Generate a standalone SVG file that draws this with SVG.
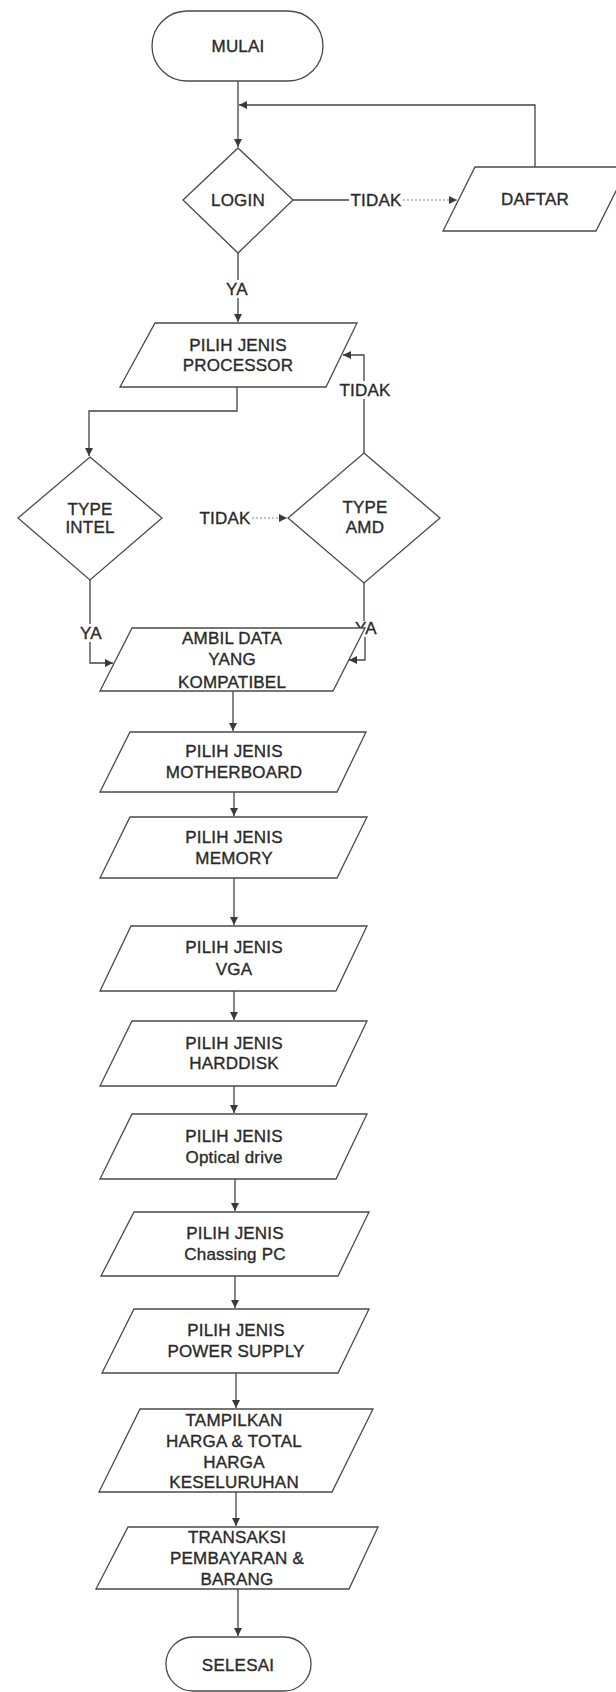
<svg xmlns="http://www.w3.org/2000/svg" width="616" height="1692" viewBox="0 0 616 1692">
<defs>
<marker id="arr" viewBox="0 0 10 10" refX="10" refY="5" markerWidth="8" markerHeight="8" markerUnits="userSpaceOnUse" orient="auto">
<path d="M0,0 L10,5 L0,10 z" fill="#3a3a3a"/>
</marker>
<style>
.shape{fill:#fff;stroke:#4a4a4a;stroke-width:1.3}
.ln{fill:none;stroke:#444;stroke-width:1.3}
.dot{fill:none;stroke:#888;stroke-width:1.2;stroke-dasharray:2 2}
text{font-family:"Liberation Sans",Arial,sans-serif;font-size:17px;fill:#2a2a2a;stroke:#2a2a2a;stroke-width:0.35;text-anchor:middle;letter-spacing:0.2px}
</style>
</defs>
<rect width="616" height="1692" fill="#fff"/>

<g id="connectors">
<path class="ln" d="M238,81 V147" marker-end="url(#arr)"/>
<path class="ln" d="M535,167 V105 H239" marker-end="url(#arr)"/>
<path class="ln" d="M293,200 H349"/>
<path class="dot" d="M403,200 H457" marker-end="url(#arr)"/>
<path class="ln" d="M238,253 V280 M238,298 V322" marker-end="url(#arr)"/>
<path class="ln" d="M237,387 V411 H89 V456" marker-end="url(#arr)"/>
<path class="ln" d="M364,453 V399 M364,381 V355 H343" marker-end="url(#arr)"/>
<path class="dot" d="M252,518 H287" marker-end="url(#arr)"/>
<path class="ln" d="M90,580 V624 M90,642 V663 H113" marker-end="url(#arr)"/>
<path class="ln" d="M364,583 V621 M365,637 V660 H349" marker-end="url(#arr)"/>
<path class="ln" d="M233,691 V731" marker-end="url(#arr)"/>
<path class="ln" d="M234,792 V816" marker-end="url(#arr)"/>
<path class="ln" d="M234,878 V925" marker-end="url(#arr)"/>
<path class="ln" d="M234,991 V1020" marker-end="url(#arr)"/>
<path class="ln" d="M234,1086 V1113" marker-end="url(#arr)"/>
<path class="ln" d="M235,1179 V1211" marker-end="url(#arr)"/>
<path class="ln" d="M235,1276 V1308" marker-end="url(#arr)"/>
<path class="ln" d="M236,1373 V1408" marker-end="url(#arr)"/>
<path class="ln" d="M236,1492 V1526" marker-end="url(#arr)"/>
<path class="ln" d="M238,1589 V1636" marker-end="url(#arr)"/>
<text x="376" y="206">TIDAK</text>
<text x="237" y="295">YA</text>
<text x="365" y="396">TIDAK</text>
<text x="225" y="524">TIDAK</text>
<text x="91" y="639">YA</text>
<text x="366" y="634">YA</text>
</g>

<g id="mulai">
<rect class="shape" x="152" y="11" width="171" height="70" rx="35"/>
<text x="238" y="52">MULAI</text>
</g>

<g id="login">
<polygon class="shape" points="238,148 293,200 238,253 183,200"/>
<text x="238" y="206">LOGIN</text>
</g>

<g id="daftar">
<polygon class="shape" points="475,167 628,167 596,231 443,231"/>
<text x="535" y="205">DAFTAR</text>
</g>

<g id="processor">
<polygon class="shape" points="155,323 357,323 326,387 120,387"/>
<text x="238" y="351">PILIH JENIS</text>
<text x="238" y="371">PROCESSOR</text>
</g>

<g id="intel">
<polygon class="shape" points="90,457 162,518 90,580 18,518"/>
<text x="90" y="515">TYPE</text>
<text x="90" y="533">INTEL</text>
</g>

<g id="amd">
<polygon class="shape" points="364,453 440,518 364,583 288,518"/>
<text x="365" y="513">TYPE</text>
<text x="365" y="533">AMD</text>
</g>

<g id="ambil">
<polygon class="shape" points="132,628 365,628 333,691 100,691"/>
<text x="232" y="644">AMBIL DATA</text>
<text x="232" y="665">YANG</text>
<text x="232" y="688">KOMPATIBEL</text>
</g>

<g id="motherboard">
<polygon class="shape" points="130,732 366,732 337,792 100,792"/>
<text x="234" y="757">PILIH JENIS</text>
<text x="234" y="778">MOTHERBOARD</text>
</g>

<g id="memory">
<polygon class="shape" points="130,817 367,817 337,878 100,878"/>
<text x="234" y="843">PILIH JENIS</text>
<text x="234" y="864">MEMORY</text>
</g>

<g id="vga">
<polygon class="shape" points="131,926 367,926 336,991 100,991"/>
<text x="234" y="953">PILIH JENIS</text>
<text x="234" y="975">VGA</text>
</g>

<g id="harddisk">
<polygon class="shape" points="132,1021 367,1021 336,1086 100,1086"/>
<text x="234" y="1049">PILIH JENIS</text>
<text x="234" y="1069">HARDDISK</text>
</g>

<g id="optical">
<polygon class="shape" points="132,1114 367,1114 336,1179 100,1179"/>
<text x="234" y="1142">PILIH JENIS</text>
<text x="234" y="1163">Optical drive</text>
</g>

<g id="chassing">
<polygon class="shape" points="134,1212 369,1212 338,1276 101,1276"/>
<text x="235" y="1239">PILIH JENIS</text>
<text x="235" y="1260">Chassing PC</text>
</g>

<g id="powersupply">
<polygon class="shape" points="134,1309 369,1309 338,1373 102,1373"/>
<text x="236" y="1336">PILIH JENIS</text>
<text x="236" y="1357">POWER SUPPLY</text>
</g>

<g id="tampilkan">
<polygon class="shape" points="140,1409 373,1409 332,1492 99,1492"/>
<text x="234" y="1426">TAMPILKAN</text>
<text x="234" y="1447">HARGA &amp; TOTAL</text>
<text x="234" y="1468">HARGA</text>
<text x="234" y="1488">KESELURUHAN</text>
</g>

<g id="transaksi">
<polygon class="shape" points="128,1527 378,1527 349,1589 96,1589"/>
<text x="237" y="1543">TRANSAKSI</text>
<text x="237" y="1564">PEMBAYARAN &amp;</text>
<text x="237" y="1585">BARANG</text>
</g>

<g id="selesai">
<rect class="shape" x="166" y="1637" width="145" height="54" rx="27"/>
<text x="238" y="1671">SELESAI</text>
</g>
</svg>
